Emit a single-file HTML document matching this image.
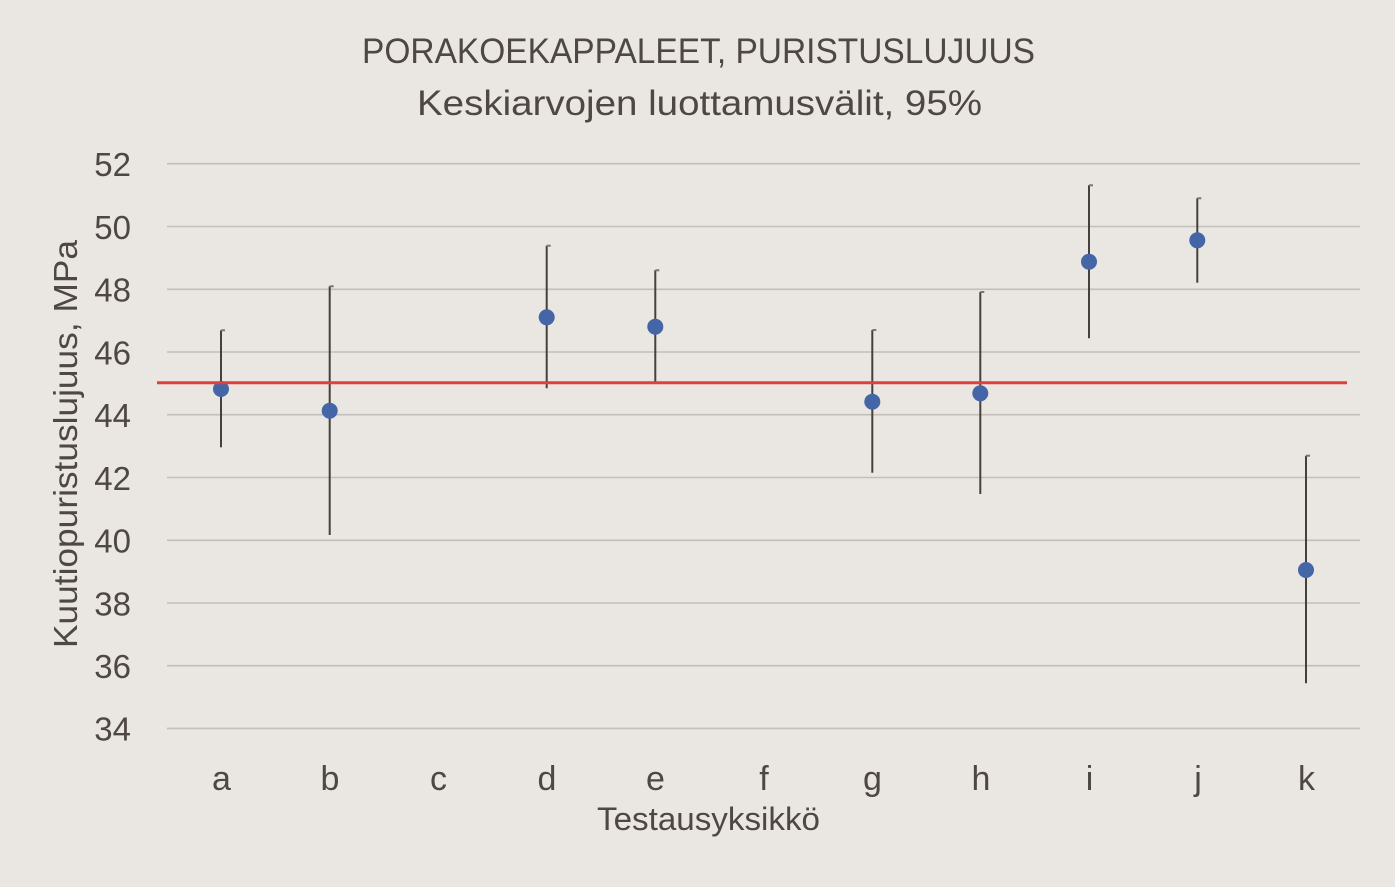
<!DOCTYPE html>
<html>
<head>
<meta charset="utf-8">
<style>
html,body{margin:0;padding:0;background:#EAE7E2;}
svg{display:block;}
text{font-family:"Liberation Sans",sans-serif;fill:#4E4743;}
</style>
</head>
<body>
<svg width="1395" height="887" viewBox="0 0 1395 887" xmlns="http://www.w3.org/2000/svg">
<rect x="0" y="0" width="1395" height="887" fill="#EAE7E2"/>
<!-- titles -->
<text x="362" y="63" font-size="35" textLength="673" lengthAdjust="spacingAndGlyphs">PORAKOEKAPPALEET, PURISTUSLUJUUS</text>
<text x="417" y="115" font-size="35" textLength="565" lengthAdjust="spacingAndGlyphs">Keskiarvojen luottamusvälit, 95%</text>
<!-- gridlines -->
<g stroke="#C2BEB9" stroke-width="1.6">
<line x1="167" y1="163.7" x2="1360" y2="163.7"/>
<line x1="167" y1="226.5" x2="1360" y2="226.5"/>
<line x1="167" y1="289.3" x2="1360" y2="289.3"/>
<line x1="167" y1="352" x2="1360" y2="352"/>
<line x1="167" y1="414.7" x2="1360" y2="414.7"/>
<line x1="167" y1="477.5" x2="1360" y2="477.5"/>
<line x1="167" y1="540.3" x2="1360" y2="540.3"/>
<line x1="167" y1="603" x2="1360" y2="603"/>
<line x1="167" y1="665.7" x2="1360" y2="665.7"/>
<line x1="167" y1="728.4" x2="1360" y2="728.4"/>
</g>
<!-- y tick labels -->
<g font-size="33" text-anchor="end">
<text x="131" y="176">52</text>
<text x="131" y="238.8">50</text>
<text x="131" y="301.6">48</text>
<text x="131" y="364.3">46</text>
<text x="131" y="427">44</text>
<text x="131" y="489.8">42</text>
<text x="131" y="552.6">40</text>
<text x="131" y="615.3">38</text>
<text x="131" y="678">36</text>
<text x="131" y="740.7">34</text>
</g>
<!-- x tick labels -->
<g font-size="34" text-anchor="middle">
<text x="221.5" y="790">a</text>
<text x="330" y="790">b</text>
<text x="438.5" y="790">c</text>
<text x="547" y="790">d</text>
<text x="655.5" y="790">e</text>
<text x="764" y="790">f</text>
<text x="872.5" y="790">g</text>
<text x="981" y="790">h</text>
<text x="1089.5" y="790">i</text>
<text x="1198" y="790">j</text>
<text x="1306.5" y="790">k</text>
</g>
<!-- axis titles -->
<text x="597" y="830" font-size="32" textLength="223" lengthAdjust="spacingAndGlyphs">Testausyksikkö</text>
<text transform="translate(77,648) rotate(-90)" x="0" y="0" font-size="33" textLength="408" lengthAdjust="spacingAndGlyphs">Kuutiopuristuslujuus, MPa</text>
<!-- error bars -->
<g stroke="#45403C" stroke-width="2">
<line x1="221" y1="330.3" x2="221" y2="447.3"/>
<line x1="329.7" y1="286.3" x2="329.7" y2="535"/>
<line x1="546.7" y1="245.7" x2="546.7" y2="388.3"/>
<line x1="655.3" y1="270.3" x2="655.3" y2="382"/>
<line x1="872.3" y1="330" x2="872.3" y2="472.7"/>
<line x1="980.3" y1="292" x2="980.3" y2="494"/>
<line x1="1089" y1="185.3" x2="1089" y2="338.3"/>
<line x1="1197.3" y1="198.3" x2="1197.3" y2="282.7"/>
<line x1="1306" y1="455.7" x2="1306" y2="683.3"/>
</g>
<g stroke="#7A7570" stroke-width="2">
<line x1="221" y1="330.3" x2="225" y2="330.3"/>
<line x1="329.7" y1="286.3" x2="333.7" y2="286.3"/>
<line x1="546.7" y1="245.7" x2="550.7" y2="245.7"/>
<line x1="655.3" y1="270.3" x2="659.3" y2="270.3"/>
<line x1="872.3" y1="330" x2="876.3" y2="330"/>
<line x1="980.3" y1="292" x2="984.3" y2="292"/>
<line x1="1089" y1="185.3" x2="1093" y2="185.3"/>
<line x1="1197.3" y1="198.3" x2="1201.3" y2="198.3"/>
<line x1="1306" y1="455.7" x2="1310" y2="455.7"/>
</g>
<!-- markers -->
<g fill="#4566A6">
<circle cx="221" cy="389" r="8"/>
<circle cx="329.7" cy="410.7" r="8"/>
<circle cx="546.7" cy="317.3" r="8"/>
<circle cx="655.3" cy="326.7" r="8"/>
<circle cx="872.3" cy="401.7" r="8"/>
<circle cx="980.3" cy="393.3" r="8"/>
<circle cx="1089" cy="261.7" r="8"/>
<circle cx="1197.3" cy="240.3" r="8"/>
<circle cx="1306" cy="570" r="8"/>
</g>
<!-- reference line -->
<line x1="157" y1="382.7" x2="1347" y2="382.7" stroke="#E0403A" stroke-width="3"/>
</svg>
</body>
</html>
